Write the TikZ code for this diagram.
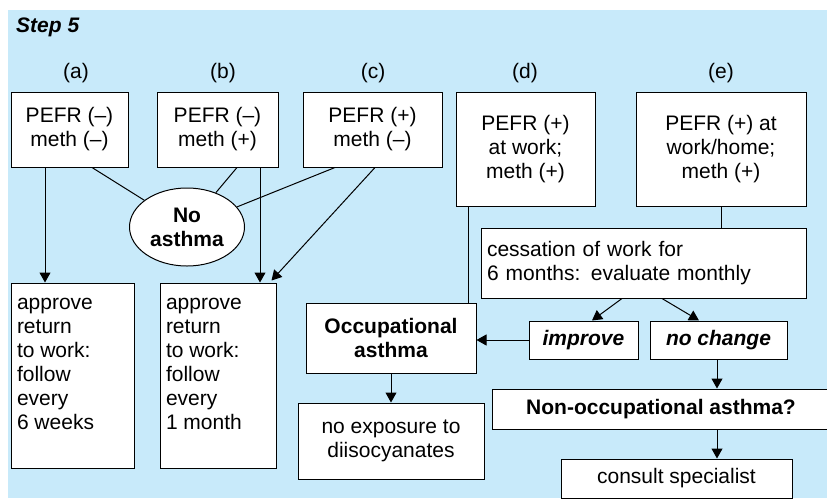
\documentclass[tikz,border=0pt]{standalone}
\usepackage{fontspec}
\setmainfont{Liberation Sans}
\usepackage{xcolor}
\usepackage{tikz}
\usetikzlibrary{positioning,shapes.geometric,arrows.meta}

\definecolor{stepblue}{RGB}{200,234,250}

\begin{document}
\begin{tikzpicture}[
    x=1pt, y=-1pt,
    every node/.style={font=\fontsize{21}{24}\selectfont},
    block/.style={draw, fill=white, line width=1pt, inner sep=0pt, align=center},
    listblock/.style={draw, fill=white, line width=1pt, inner xsep=6pt, inner ysep=10pt},
    tag/.style={inner sep=0pt},
    line/.style={line width=1pt},
    arr/.style={line width=1pt, -{Triangle[length=10pt, width=11pt]}}
]

\useasboundingbox (0,0) rectangle (827,498);
\fill[stepblue] (8,10) rectangle (827,498);

\node[tag, anchor=west, font=\fontsize{21}{24}\selectfont\bfseries\itshape] (steplbl) at (16,27) {Step 5};

\node[tag] (taga) at (76,73) {(a)};
\node[tag] (tagb) at (223,73) {(b)};
\node[tag] (tagc) at (373,73) {(c)};
\node[tag] (tagd) at (525,73) {(d)};
\node[tag] (tage) at (721,73) {(e)};

\node[block, minimum width=117, minimum height=75] (boxa) at (69.5,129.5) {PEFR (–)\\meth (–)};
\node[block, minimum width=121, minimum height=75] (boxb) at (217.5,129.5) {PEFR (–)\\meth (+)};
\node[block, minimum width=139, minimum height=75] (boxc) at (372.5,129.5) {PEFR (+)\\meth (–)};
\node[block, minimum width=139, minimum height=114] (boxd) at (525.5,149) {PEFR (+)\\at work;\\meth (+)};
\node[block, minimum width=170, minimum height=114] (boxe) at (721,149) {PEFR (+) at\\work/home;\\meth (+)};

\node[block, ellipse, minimum width=115, minimum height=78, font=\fontsize{21}{24}\selectfont\bfseries] (noasthma) at (187,227) {No\\asthma};

\node[listblock] (approvea) at (72.5,375.5) {\parbox[c][165pt][t]{111pt}{\strut approve\\return\\to work:\\follow\\every\\6 weeks}};
\node[listblock] (approveb) at (218,375.5) {\parbox[c][165pt][t]{104pt}{\strut approve\\return\\to work:\\follow\\every\\1 month}};

\node[block, minimum width=325, minimum height=70, text width=313, align=left] (cess) at (643.5,263) {cessation of work for\\6 months: evaluate monthly};
\node[block, minimum width=109, minimum height=38, font=\fontsize{21}{24}\selectfont\bfseries\itshape] (improve) at (583.5,340) {improve};
\node[block, minimum width=137, minimum height=38, font=\fontsize{21}{24}\selectfont\bfseries\itshape] (nochange) at (718.5,340) {no change};

\node[block, minimum width=170, minimum height=70, font=\fontsize{21}{24}\selectfont\bfseries] (occ) at (391,338) {Occupational\\asthma};
\node[block, minimum width=186, minimum height=76] (noexp) at (391,441) {no exposure to\\diisocyanates};

\node[block, minimum width=338, minimum height=40, font=\fontsize{21}{24}\selectfont\bfseries] (nonocc) at (661,409) {Non-occupational asthma?};
\node[block, minimum width=231, minimum height=39] (consult) at (676.5,478.5) {consult specialist};

\draw[arr] ([xshift=-24.5pt]boxa.south) -- ([xshift=-24.5pt]boxa.south |- approvea.north);
\draw[line] ([xshift=22.5pt]boxa.south) -- (noasthma);
\draw[line] ([xshift=19.5pt]boxb.south) -- (noasthma);
\draw[arr] ([xshift=42.5pt]boxb.south) -- ([xshift=42.5pt]boxb.south |- approveb.north);
\draw[line] ([xshift=-37.5pt]boxc.south) -- (noasthma);
\draw[arr] ([xshift=2.5pt]boxc.south) -- ([xshift=-5pt, yshift=2pt]approveb.north east);
\draw[line] ([xshift=-57.5pt]boxd.south) -- ([xshift=-57.5pt]boxd.south |- occ.north);
\draw[line] (boxe.south) -- (boxe.south |- cess.north);
\draw[arr] ([xshift=-21.5pt]cess.south) -- ([xshift=8.5pt]improve.north);
\draw[arr] ([xshift=18.5pt]cess.south) -- ([xshift=-19.5pt]nochange.north);
\draw[arr] (improve.west) -- (improve.west -| occ.east);
\draw[arr] (occ.south) -- (noexp.north);
\draw[arr] ([xshift=-1.5pt]nochange.south) -- ([xshift=-1.5pt]nochange.south |- nonocc.north);
\draw[arr] ([xshift=-1.5pt]nochange.south |- nonocc.south) -- ([xshift=-1.5pt]nochange.south |- consult.north);

\end{tikzpicture}
\end{document}
